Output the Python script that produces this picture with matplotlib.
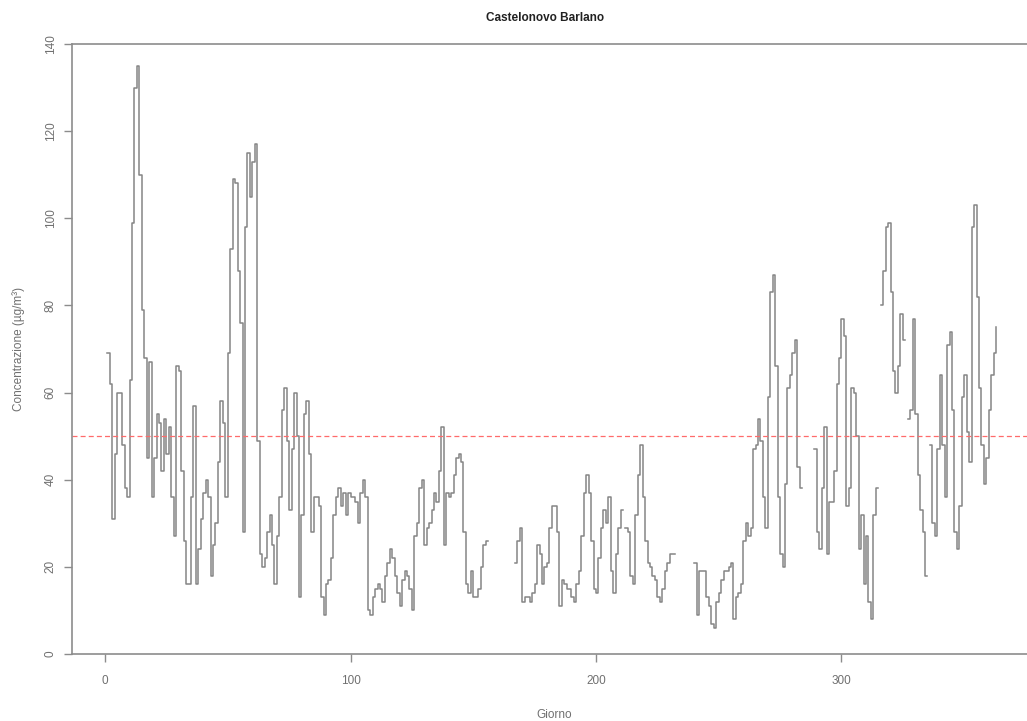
import matplotlib
matplotlib.use("Agg")
import matplotlib.pyplot as plt
import numpy as np

nan = np.nan

# daily concentration, days 1..363 (nan = missing)
conc = [
    69, 62, 31, 46, 60, 60, 48, 38, 36, 63,
    99, 130, 135, 110, 79, 68, 45, 67, 36, 45,
    55, 53, 42, 54, 46, 52, 36, 27, 66, 65,
    42, 26, 16, 16, 36, 57, 16, 24, 31, 37,
    40, 36, 18, 25, 30, 44, 58, 53, 36, 69,
    93, 109, 108, 88, 76, 28, 98, 115, 105, 113,
    117, 49, 23, 20, 22, 28, 32, 25, 16, 27,
    36, 56, 61, 49, 33, 47, 60, 50, 13, 32,
    55, 58, 46, 28, 36, 36, 34, 13, 9, 16,
    17, 22, 32, 36, 38, 34, 37, 32, 37, 36,
    36, 35, 30, 37, 40, 36, 10, 9, 13, 15,
    16, 15, 12, 18, 21, 24, 22, 18, 14, 11,
    17, 19, 18, 15, 10, 27, 30, 38, 40, 25,
    29, 30, 33, 37, 35, 42, 52, 25, 37, 36,
    37, 41, 45, 46, 44, 28, 16, 14, 19, 13,
    13, 15, 20, 25, 26, nan, nan, nan, nan, nan,
    nan, nan, nan, nan, nan, nan, 21, 26, 29, 12,
    13, 13, 12, 14, 16, 25, 23, 16, 20, 21,
    29, 34, 34, 28, 11, 17, 16, 15, 15, 13,
    12, 16, 19, 27, 37, 41, 37, 26, 15, 14,
    22, 29, 33, 30, 36, 19, 14, 23, 29, 33,
    nan, 29, 28, 18, 16, 32, 41, 48, 36, 26,
    21, 20, 18, 17, 13, 12, 15, 19, 21, 23,
    23, nan, nan, nan, nan, nan, nan, nan, nan, 21,
    9, 19, 19, 19, 13, 11, 7, 6, 12, 14,
    17, 19, 19, 20, 21, 8, 13, 14, 16, 26,
    30, 27, 29, 47, 48, 54, 49, 36, 29, 59,
    83, 87, 66, 36, 23, 20, 39, 61, 64, 69,
    72, 43, 38, nan, nan, nan, nan, nan, 47, 28,
    24, 38, 52, 23, 35, 35, 42, 62, 68, 77,
    73, 34, 38, 61, 60, 50, 24, 32, 16, 27,
    12, 8, 32, 38, nan, 80, 88, 98, 99, 83,
    65, 60, 66, 78, 72, nan, 54, 56, 77, 55,
    41, 33, 28, 18, nan, 48, 30, 27, 47, 64,
    48, 36, 71, 74, 56, 28, 24, 34, 59, 64,
    51, 44, 98, 103, 82, 61, 48, 39, 45, 56,
    64, 69, 75,
]
days = np.arange(1, len(conc) + 1)

limit = 50
x_ticks = [0, 100, 200, 300]
y_ticks = [0, 20, 40, 60, 80, 100, 120, 140]

plt.rcParams["font.family"] = ["Liberation Sans", "DejaVu Sans"]

fig = plt.figure(figsize=(10.27, 7.21), dpi=100)
# box runs past the right edge of the figure
ax = fig.add_axes([0.0700, 0.0929, 0.9394, 0.8460])

ax.step(days, conc, where="post", color="#858585", linewidth=1.1)
ax.axhline(limit, color="#ff6b6b", linestyle=(0, (4, 2.5)), linewidth=0.9)

ax.set_xlim(-13.5, 379.5)
ax.set_ylim(0, 140)
ax.set_xticks(x_ticks)
ax.set_yticks(y_ticks)

grey = "#8c8c8c"
for side in ("left", "top", "bottom", "right"):
    ax.spines[side].set_color(grey)
    ax.spines[side].set_linewidth(1.2)

ax.tick_params(axis="both", direction="out", length=6, width=1.0, color=grey,
               labelcolor="#707070", labelsize=8.5)
ax.tick_params(axis="x", pad=9)
ax.tick_params(axis="y", pad=5)
for lab in ax.get_yticklabels():
    lab.set_rotation(90)
    lab.set_va("center")

ax.set_xlabel("Giorno", color="#707070", fontsize=8.5, labelpad=16)
ax.set_ylabel("Concentrazione (µg/m³)", color="#707070", fontsize=8.5, labelpad=14)
fig.text(0.531, 0.975, "Castelonovo Barlano", ha="center", va="center",
         fontsize=8.5, fontweight="bold", color="#222222")

fig.savefig("out.png", dpi=100)
